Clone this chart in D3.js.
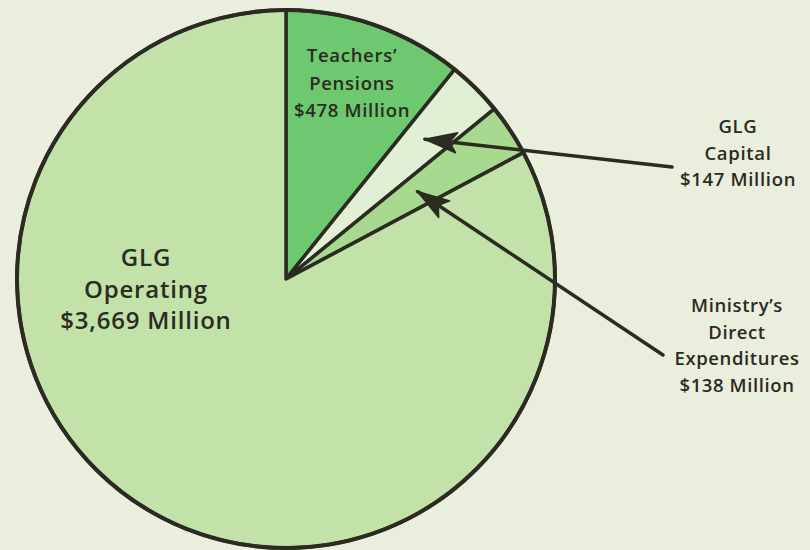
<!DOCTYPE html>
<html>
<head>
<meta charset="utf-8">
<script src="https://cdn.jsdelivr.net/npm/d3@7"></script>
<style>
  html, body { margin: 0; padding: 0; background: #eaeedd; }
  svg { display: block; }
  text { font-family: "Open Sans", "DejaVu Sans", sans-serif; font-weight: 600; fill: #2b2b22; }
</style>
</head>
<body>
<svg id="chart" width="810" height="550"></svg>
<script>
// Spending, millions of dollars
const categories = ["Teachers' Pensions", "GLG Capital", "Ministry's Direct Expenditures", "GLG Operating"];
const values = [478, 147, 138, 3669];
const colors = ["#6dc86f", "#e1efd5", "#a7d98f", "#c2e2aa"];
const labelLines = [
  ["Teachers\u2019", "Pensions", "$478 Million"],
  ["GLG", "Capital", "$147 Million"],
  ["Ministry\u2019s", "Direct", "Expenditures", "$138 Million"],
  ["GLG", "Operating", "$3,669 Million"]
];

const svg = d3.select("#chart");
const cx = 286, cy = 279, R = 269;
const ink = "#2b2b22";

const data = categories.map((c, i) => ({ name: c, value: values[i], color: colors[i], lines: labelLines[i] }));

const pie = d3.pie().value(d => d.value).sort(null).startAngle(0).endAngle(2 * Math.PI);
const arcs = pie(data);
const arc = d3.arc().innerRadius(0).outerRadius(R);

const g = svg.append("g").attr("transform", `translate(${cx},${cy})`);

g.selectAll("path.slice")
  .data(arcs)
  .enter().append("path")
  .attr("class", "slice")
  .attr("d", arc)
  .attr("fill", d => d.data.color)
  .attr("stroke", ink)
  .attr("stroke-width", 3.5)
  .attr("stroke-linejoin", "round");

// outer rim
g.append("circle").attr("r", R).attr("fill", "none").attr("stroke", ink).attr("stroke-width", 4);

// point on a slice's bisector at radius r (relative to centre)
function pointIn(a, r) {
  const m = (a.startAngle + a.endAngle) / 2;
  return [r * Math.sin(m), -r * Math.cos(m)];
}

// centred multi-line label
function multiLine(sel, lines, x, y0, lh, size, spacing) {
  const t = sel.append("text")
    .attr("text-anchor", "middle")
    .attr("font-size", size)
    .attr("letter-spacing", spacing);
  lines.forEach((l, i) => t.append("tspan").attr("x", x).attr("y", y0 + i * lh).text(l));
}

// Teachers' Pensions label, inside its slice
multiLine(svg, arcs[0].data.lines, 352, 62, 27.5, 18.5, 0.7);
// GLG Operating label
multiLine(svg, arcs[3].data.lines, 146, 266, 31.5, 24, 0.8);
// outside labels
multiLine(svg, arcs[1].data.lines, 738, 133, 26.5, 18.5, 0.7);
multiLine(svg, arcs[2].data.lines, 737, 312, 26.5, 18.5, 0.6);

// leader arrows from outside labels into their slices
const leaders = [
  { arc: arcs[1], tipR: 197, from: [672, 167] },
  { arc: arcs[2], tipR: 158, from: [663, 355] }
];

leaders.forEach(l => {
  const p = pointIn(l.arc, l.tipR);
  const tip = [cx + p[0], cy + p[1]];
  const [fx, fy] = l.from;
  svg.append("line")
    .attr("x1", fx).attr("y1", fy)
    .attr("x2", tip[0]).attr("y2", tip[1])
    .attr("stroke", ink).attr("stroke-width", 3.5).attr("stroke-linecap", "round");
  const ang = Math.atan2(fy - tip[1], fx - tip[0]) * 180 / Math.PI;
  svg.append("path")
    .attr("d", "M0,0 L32,-10 L25,0 L32,10 Z")
    .attr("fill", ink)
    .attr("stroke", ink)
    .attr("stroke-width", 1.5)
    .attr("stroke-linejoin", "round")
    .attr("transform", `translate(${tip[0]},${tip[1]}) rotate(${ang})`);
});
</script>
</body>
</html>
